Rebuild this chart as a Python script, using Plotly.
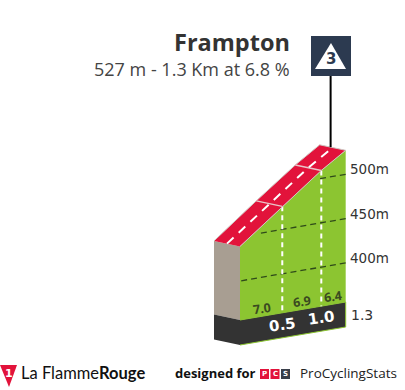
import numpy as np
import plotly.graph_objects as go

# --- data ---
km_marks = [0, 0.52, 1.0, 1.3]
elevation = [439, 476, 509, 527]
gradients = ["7.0", "6.9", "6.4"]
km_labels = ["0.5", "1.0", "1.3"]
contours = [400, 450, 500]
climb_name = "Frampton"
climb_info = "527 m - 1.3 Km at 6.8 %"
category = "3"
FONT = "DejaVu Sans"
BASE_ELEV = 356


def px(km, e, d=0.0):
    """Oblique projection of (km, elevation, depth) onto the page."""
    km = np.asarray(km, float)
    e = np.asarray(e, float)
    return 240 + 81.3 * km - 26 * d, 320 - 13.85 * km - 0.887 * (e - BASE_ELEV) - 5.5 * d


fig = go.Figure()


def poly(xs, ys, fill, line=None, lw=0):
    fig.add_trace(go.Scatter(x=list(xs), y=list(ys), mode="lines", fill="toself", fillcolor=fill,
                             line=dict(color=line or fill, width=lw), hoverinfo="skip", showlegend=False))


def seg(xs, ys, color, w, dash="solid"):
    fig.add_trace(go.Scatter(x=list(xs), y=list(ys), mode="lines", line=dict(color=color, width=w, dash=dash),
                             hoverinfo="skip", showlegend=False))


def text(x, y, s, size, color="#333333", anchor="left", bold=False, angle=0, font=FONT):
    fig.add_annotation(x=x, y=y, text=f"<b>{s}</b>" if bold else s, showarrow=False, xanchor=anchor, yanchor="middle",
                       textangle=angle, xref="x", yref="y",
                       font=dict(size=size, color=color, family=font), borderpad=0, borderwidth=0)


km = np.array(km_marks)
el = np.array(elevation)
base = np.full_like(el, BASE_ELEV)

# side wall
lx, ly = px(0, el[0])
bx, by = px(0, el[0], 1)
b0x, b0y = px(0, BASE_ELEV)
b1x, b1y = px(0, BASE_ELEV, 1)
poly([bx, lx, b0x, b1x], [by, ly, b0y, b1y], "#a89e92")
poly([b1x, b0x, b0x, b1x], [b1y, b0y, b0y + 25, b1y + 25], "#333333")

# green face
fx, fy = px(km, el)
gx, gy = px(km, base)
poly(list(fx) + list(gx[::-1]), list(fy) + list(gy[::-1]), "#8cc531")

# base band
poly(list(gx) + list(gx[::-1]), list(gy) + list(gy[::-1] + 25), "#333333", "#8cc531", 1)

# elevation contours
for c in contours:
    k0 = float(np.interp(c, el, km))
    k0 = k0 + 0.09 if c > el[0] else 0.0
    cx, cy = px([1.3, k0], [c, c])
    seg(cx, cy, "#2f4a1a", 1.3, "6px,4px")

# segment dashed verticals
for i in (1, 2):
    seg([fx[i], gx[i]], [fy[i], gy[i]], "#ffffff", 2, "5px,4px")

# road
rx, ry = px(km, el, 1)
poly(list(fx) + list(rx[::-1]), list(fy) + list(ry[::-1]), "#e2133b", "#cfc9c4", 1)
for i in (1, 2):
    seg([fx[i], rx[i]], [fy[i], ry[i]], "#e8c4c8", 1.5)
mx, my = px(km, el, 0.5)
seg(mx, my, "#ffffff", 2, "9px,7px")

# pole
tx, ty = px(km[-1], el[-1], 0.58)
seg([tx, tx], [ty, 75], "#000000", 2)

# category icon
fig.add_shape(type="rect", x0=311, x1=351, y0=36, y1=76, xref="x", yref="y",
              fillcolor="#2c3a50", line=dict(width=0), layer="above")
fig.add_shape(type="path", path="M331,43 L346,69 L315,69 Z", xref="x", yref="y",
              fillcolor="#ffffff", line=dict(width=0), layer="above")
text(331, 59, category, 15, "#2c3a50", "center", True)

# titles
text(290, 42, climb_name, 23.5, "#333333", "right", True, font="Open Sans")
text(290, 69, climb_info, 18, "#444444", "right", font="Open Sans")

# contour labels
for c in contours:
    _, cy = px(1.3, c)
    text(350, cy - 5, f"{c}m", 13.5, "#333333")

# gradient labels
for i, g in enumerate(gradients):
    kx = km[i + 1] - {0: 0.25, 1: 0.24, 2: 0.155}[i]
    x, y = px(kx, BASE_ELEV)
    text(x, y - 8, g, 12.5, "#3a4a20", "center", True, -8, "Open Sans")

# km labels
for i, k in enumerate(km_labels[:2]):
    text(gx[i + 1], gy[i + 1] + 12, k, 15, "#ffffff", "center", True, -8)
text(351, 315, km_labels[2], 14, "#333333")

# footer
fig.add_shape(type="path", path="M0,365 L17,365 L9,387 Z", xref="x", yref="y",
              fillcolor="#e2133b", line=dict(width=0))
text(9, 373, "1", 11, "#ffffff", "center", True)
text(21, 373, "La Flamme<b>Rouge</b>", 16.5, "#111111", font="Lato")
text(175, 373, "designed for", 13, "#111111", bold=True, font="Open Sans")
for x0, c, s in [(260, "#e2133b", "P"), (270.5, "#e2133b", "C"), (281, "#3a3f4a", "S")]:
    fig.add_shape(type="rect", x0=x0, x1=x0 + 9, y0=369, y1=379, xref="x", yref="y",
                  fillcolor=c, line=dict(width=0))
    text(x0 + 4.5, 374, s, 7, "#ffffff", "center", True)
text(300, 373, "ProCyclingStats", 13.5, "#222222", font="Open Sans")

fig.update_layout(width=405, height=390, margin=dict(l=0, r=0, t=0, b=0), paper_bgcolor="white",
                  plot_bgcolor="white", showlegend=False,
                  xaxis=dict(range=[0, 405], visible=False, fixedrange=True),
                  yaxis=dict(range=[390, 0], visible=False, fixedrange=True))
fig.write_html("out.html", config={"displayModeBar": False},
               post_script="document.body.style.margin='0';document.body.style.overflow='hidden';")
